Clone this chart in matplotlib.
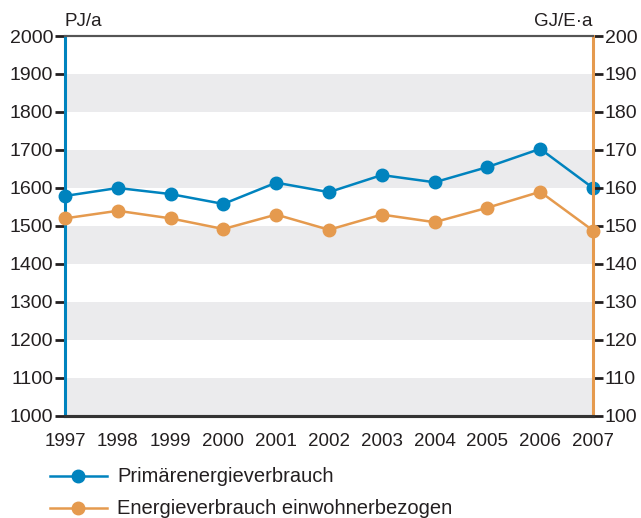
import matplotlib
matplotlib.use("Agg")
import matplotlib.pyplot as plt
from matplotlib.lines import Line2D

plt.rcParams["font.family"] = ["Liberation Sans", "DejaVu Sans"]

years = [1997, 1998, 1999, 2000, 2001, 2002, 2003, 2004, 2005, 2006, 2007]
primaer = [1579, 1600, 1584, 1558, 1614, 1589, 1634, 1615, 1655, 1703, 1600]
einwohner = [152, 154, 152, 149.2, 153, 149, 153, 151, 154.8, 159, 148.8]
left_ticks = list(range(1000, 2001, 100))
right_ticks = list(range(100, 201, 10))
labels = ["Primärenergieverbrauch", "Energieverbrauch einwohnerbezogen"]

blue = "#0083be"
orange = "#e59a4e"
band = "#ebebed"
txt = "#231f20"
fs = 13.5

fig = plt.figure(figsize=(6.41, 5.18), dpi=100)
ax = fig.add_axes([0.1014, 0.197, 0.8237, 0.7335])
ax2 = ax.twinx()

# alternating grey bands
for lo in range(1000, 2000, 200):
    ax.axhspan(lo, lo + 100, color=band, lw=0, zorder=0)

ax.set_xlim(1997, 2007)
ax.set_ylim(1000, 2000)
ax2.set_ylim(100, 200)

ax.plot(years, primaer, color=blue, lw=1.8, marker="o", ms=9, clip_on=False, zorder=5)
ax2.plot(years, einwohner, color=orange, lw=1.8, marker="o", ms=9, clip_on=False, zorder=5)

ax.set_xticks(years)
ax.set_yticks(left_ticks)
ax2.set_yticks(right_ticks)
ax.tick_params(axis="x", length=0, labelsize=fs, pad=12, colors=txt)
ax.tick_params(axis="y", length=7, width=2, labelsize=14, pad=1.5, colors=txt)
ax2.tick_params(axis="y", length=7, width=2, labelsize=14, pad=1.5, colors=txt)

for a in (ax, ax2):
    a.spines["top"].set_color("#555555")
    a.spines["top"].set_linewidth(1.5)
    a.spines["bottom"].set_color("#333333")
    a.spines["bottom"].set_linewidth(2.2)
ax.spines["left"].set_color(blue)
ax.spines["left"].set_linewidth(2.2)
ax2.spines["left"].set_visible(False)
ax2.spines["right"].set_color(orange)
ax2.spines["right"].set_linewidth(2.2)
ax.spines["right"].set_visible(False)

fig.text(0.1014, 0.943, "PJ/a", fontsize=fs, color=txt, ha="left", va="bottom")
fig.text(0.925, 0.943, "GJ/E·a", fontsize=fs, color=txt, ha="right", va="bottom")

# legend drawn by hand below the axes
W, H = 641, 518
for i, (lab, col) in enumerate(zip(labels, [blue, orange])):
    y = 1 - (476 + 32 * i) / H
    fig.add_artist(Line2D([50 / W, 107 / W], [y, y], color=col, lw=1.8,
                          transform=fig.transFigure))
    fig.add_artist(Line2D([78 / W], [y], color=col, marker="o", ms=9,
                          transform=fig.transFigure))
    fig.text(117 / W, y, lab, fontsize=14.5, color=txt, ha="left", va="center")

fig.savefig("out.png", dpi=100)
